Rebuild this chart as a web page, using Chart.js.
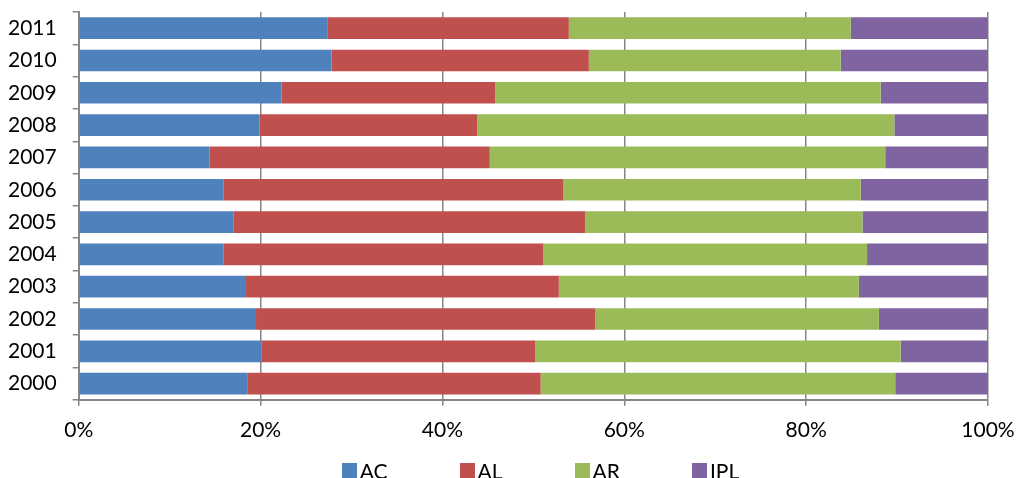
<!DOCTYPE html>
<html>
<head>
<meta charset="utf-8">
<script src="https://cdn.jsdelivr.net/npm/chart.js@4.4.1/dist/chart.umd.min.js"></script>
<style>
  html, body { margin: 0; padding: 0; background: #fff; }
  #wrap { position: relative; width: 1017px; height: 478px; }
  #legend { position: absolute; left: 32px; top: 458px; width: 1017px; height: 24px;
            display: flex; justify-content: center; font-family: Lato, "Open Sans", sans-serif;
            font-size: 21px; color: #000; }
  .item { display: flex; align-items: center; margin: 0 36px; }
  .box { width: 15px; height: 15px; margin-right: 3px; }
</style>
</head>
<body>
<div id="wrap">
  <canvas id="shareChart" width="1017" height="478"></canvas>
  <div id="legend"></div>
</div>
<script>
// anos (de baixo para cima)
const years = ['2000', '2001', '2002', '2003', '2004', '2005', '2006', '2007', '2008', '2009', '2010', '2011'];
const acData  = [18.6, 20.1, 19.5, 18.4, 15.9, 17.0, 15.9, 14.4, 19.9, 22.3, 27.8, 27.4];
const alData  = [32.2, 30.1, 37.3, 34.4, 35.2, 38.7, 37.4, 30.8, 23.9, 23.5, 28.3, 26.5];
const arData  = [39.0, 40.2, 31.2, 33.0, 35.6, 30.5, 32.7, 43.5, 45.9, 42.4, 27.7, 31.0];
const iplData = [10.2, 9.6, 12.0, 14.2, 13.3, 13.8, 14.0, 11.3, 10.3, 11.8, 16.2, 15.1];
const xTicks = [0, 20, 40, 60, 80, 100];

const seriesNames = ['AC', 'AL', 'AR', 'IPL'];
const seriesColors = ['#4F81BD', '#C0504D', '#9BBB59', '#8064A2'];
const seriesData = [acData, alData, arData, iplData];

const axisGray = '#868686';
const fontFamily = 'Lato, "Open Sans", sans-serif';

// sem folga automática dos rótulos: a área do gráfico fica só com o padding do layout
const noAutoPadding = (scale) => {
    scale.paddingTop = 0;
    scale.paddingBottom = 0;
    scale.paddingLeft = 0;
    scale.paddingRight = 0;
};

const chart = new Chart(document.getElementById('shareChart'), {
    type: 'bar',
    data: {
        labels: years,
        datasets: seriesNames.map((name, i) => ({
            label: name,
            data: seriesData[i],
            backgroundColor: seriesColors[i],
            borderWidth: 0,
            barPercentage: 0.67,
            categoryPercentage: 1
        }))
    },
    options: {
        indexAxis: 'y',
        responsive: false,
        animation: false,
        layout: { padding: { left: -8, right: 29, top: 12, bottom: 23 } },
        plugins: {
            legend: { display: false },
            tooltip: { enabled: false }
        },
        scales: {
            x: {
                stacked: true,
                min: 0,
                max: 100,
                afterBuildTicks: (axis) => { axis.ticks = xTicks.map(v => ({ value: v })); },
                afterFit: noAutoPadding,
                ticks: {
                    callback: (v) => v + '%',
                    color: '#000',
                    padding: 12,
                    font: { family: fontFamily, size: 21 }
                },
                grid: { color: axisGray, lineWidth: 1.5, tickLength: 6 },
                border: { color: axisGray, width: 2 }
            },
            y: {
                stacked: true,
                reverse: true,
                afterFit: noAutoPadding,
                ticks: {
                    color: '#000',
                    padding: 16,
                    font: { family: fontFamily, size: 21 }
                },
                grid: { drawOnChartArea: false, color: axisGray, lineWidth: 1.5, tickLength: 6 },
                border: { color: axisGray, width: 2 }
            }
        }
    }
});

// legenda em HTML, a partir dos datasets
const legendEl = document.getElementById('legend');
chart.data.datasets.forEach(ds => {
    const item = document.createElement('div');
    item.className = 'item';
    item.innerHTML = '<span class="box" style="background:' + ds.backgroundColor + '"></span><span>' + ds.label + '</span>';
    legendEl.appendChild(item);
});
</script>
</body>
</html>
